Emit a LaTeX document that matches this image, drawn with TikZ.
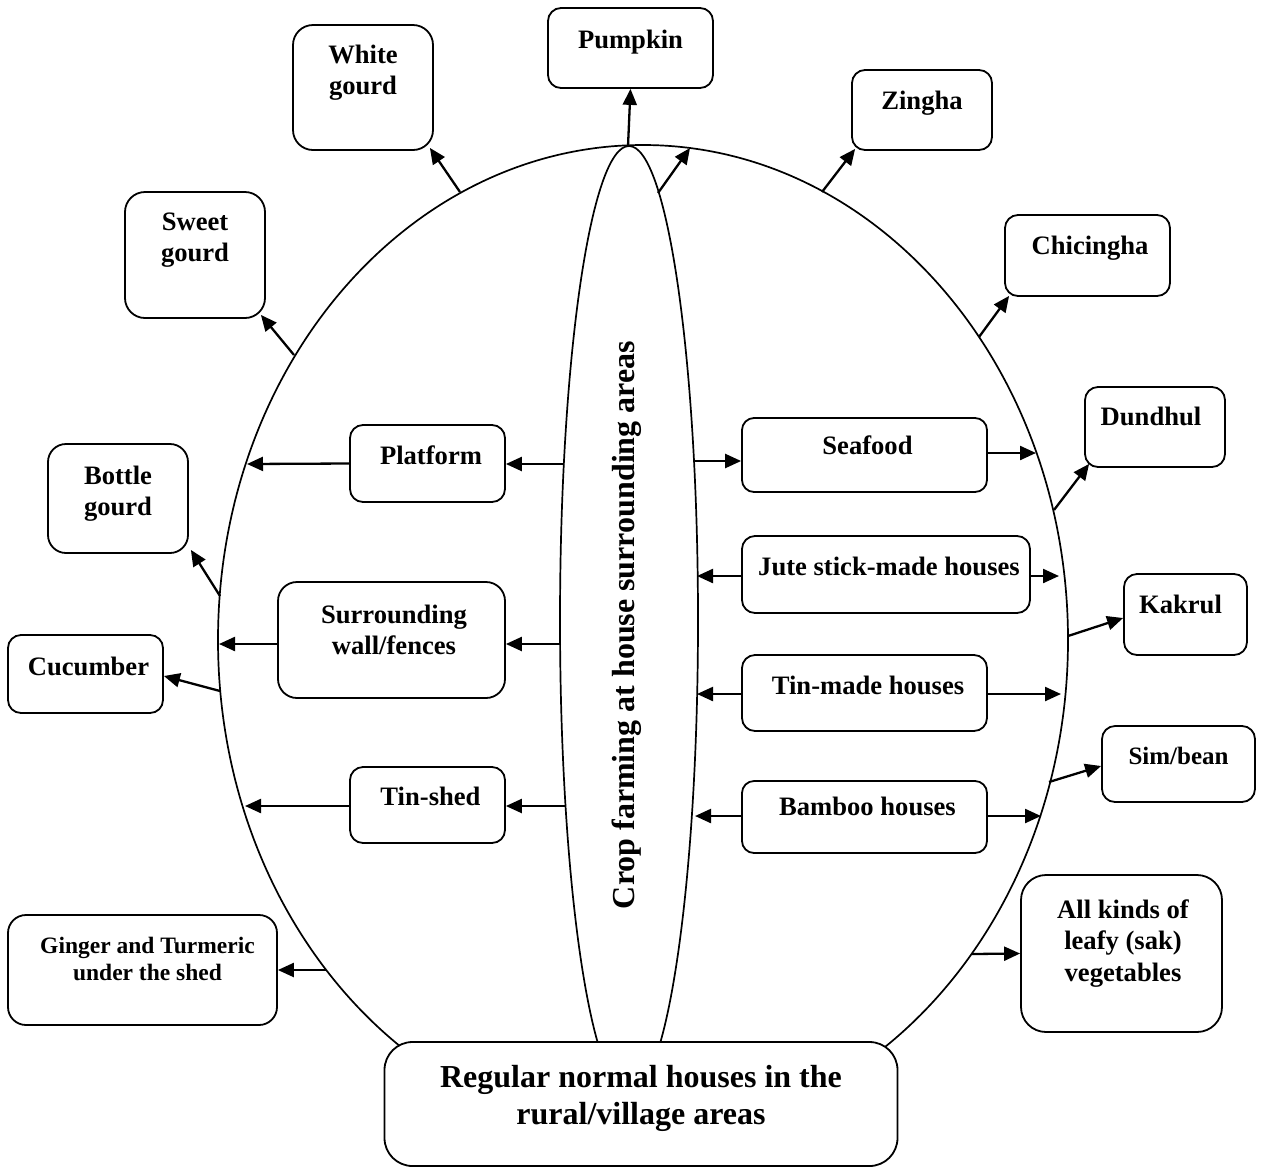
\documentclass[tikz,border=0pt]{standalone}
\usepackage{fontspec}
\setmainfont{Liberation Serif}
\usetikzlibrary{arrows.meta,shapes.geometric,calc}

% font sizes: regular labels, large labels, small labels
\newcommand\fsA{\fontsize{26.6}{31.5}\selectfont\bfseries}
\newcommand\fsB{\fontsize{32}{37}\selectfont\bfseries}
\newcommand\fsC{\fontsize{23.5}{27}\selectfont\bfseries}

\tikzset{
  box/.style={draw, line width=1.8pt, rounded corners=#1, inner sep=0pt, fill=white},
  lbl/.style={anchor=north, align=center, inner sep=0pt, font=\fsA},
  arr/.style={line width=2.3pt, -{Triangle[length=16pt,width=14pt]}},
  ring/.style={draw, ellipse, line width=1.7pt, inner sep=0pt},
}

\begin{document}
\begin{tikzpicture}[x=1pt, y=-1pt]
\useasboundingbox (0,0) rectangle (1263,1168);

% the two ellipses
\node[ring, minimum width=850pt, minimum height=990pt] (outer) at (643,640) {};
\node[ring, minimum width=138pt, minimum height=948pt] (inner) at (629,620) {};

% vertical title inside the inner ellipse
\node[rotate=90, font=\fsB, inner sep=0pt] (crop) at (627,625) {Crop farming at house surrounding areas};

% outer boxes
\node[box=13, minimum width=165pt, minimum height=80pt]  (pumpkin)  at (630.5,48) {};
\node[box=20, minimum width=140pt, minimum height=125pt] (white)    at (363,87.5) {};
\node[box=13, minimum width=140pt, minimum height=80pt]  (zingha)   at (922,110) {};
\node[box=20, minimum width=140pt, minimum height=126pt] (sweet)    at (195,255) {};
\node[box=13, minimum width=165pt, minimum height=81pt]  (chic)     at (1087.5,255.5) {};
\node[box=13, minimum width=140pt, minimum height=80pt]  (dundhul)  at (1155,427) {};
\node[box=18, minimum width=140pt, minimum height=109pt] (bottle)   at (118,498.5) {};
\node[box=13, minimum width=123pt, minimum height=81pt]  (kakrul)   at (1185.5,614.5) {};
\node[box=13, minimum width=155pt, minimum height=78pt]  (cucumber) at (85.5,674) {};
\node[box=13, minimum width=153pt, minimum height=76pt]  (sim)      at (1178.5,764) {};
\node[box=18, minimum width=269pt, minimum height=110pt] (ginger)   at (142.5,970) {};
\node[box=25, minimum width=201pt, minimum height=157pt] (leafy)    at (1121.5,953.5) {};

% inner boxes
\node[box=13, minimum width=155pt, minimum height=77pt]  (platform) at (427.5,463.5) {};
\node[box=19, minimum width=227pt, minimum height=116pt] (wall)     at (391.5,640) {};
\node[box=13, minimum width=155pt, minimum height=76pt]  (tinshed)  at (427.5,805) {};
\node[box=12, minimum width=245pt, minimum height=74pt]  (seafood)  at (864.5,455) {};
\node[box=13, minimum width=288pt, minimum height=77pt]  (jute)     at (886,574.5) {};
\node[box=13, minimum width=245pt, minimum height=76pt]  (tinmade)  at (864.5,693) {};
\node[box=12, minimum width=245pt, minimum height=72pt]  (bamboo)   at (864.5,817) {};

% base box
\node[box=28, minimum width=513pt, minimum height=124pt] (houses) at (641,1104) {};

% labels
\node[lbl] (pumpkinT)  at ([yshift=-18.8pt]pumpkin.north) {\strut Pumpkin};
\node[lbl] (whiteT)    at ([yshift=-16.8pt]white.north) {\strut White\\gourd};
\node[lbl] (zinghaT)   at ([yshift=-17.8pt]zingha.north) {\strut Zingha};
\node[lbl] (sweetT)    at ([yshift=-16.8pt]sweet.north) {\strut Sweet\\gourd};
\node[lbl] (chicT)     at ([shift={(2.5pt,-17.8pt)}]chic.north) {\strut Chicingha};
\node[lbl] (dundhulT)  at ([shift={(-4pt,-16.8pt)}]dundhul.north) {\strut Dundhul};
\node[lbl] (bottleT)   at ([yshift=-18.8pt]bottle.north) {\strut Bottle\\gourd};
\node[lbl] (kakrulT)   at ([shift={(-5pt,-17.8pt)}]kakrul.north) {\strut Kakrul};
\node[lbl] (cucumberT) at ([shift={(3pt,-18.8pt)}]cucumber.north) {\strut Cucumber};
\node[lbl, font=\fontsize{25}{30}\selectfont\bfseries] (simT) at ([yshift=-17.8pt]sim.north) {\strut Sim/bean};
\node[lbl, font=\fsC] (gingerT) at ([shift={(5pt,-20pt)}]ginger.north) {\strut Ginger and Turmeric\\under the shed};
\node[lbl] (leafyT)    at ([shift={(1.5pt,-21.8pt)}]leafy.north) {\strut All kinds of\\leafy (sak)\\vegetables};
\node[lbl] (platformT) at ([shift={(3.5pt,-17.8pt)}]platform.north) {\strut Platform};
\node[lbl] (wallT)     at ([shift={(2.5pt,-19.8pt)}]wall.north) {\strut Surrounding\\wall/fences};
\node[lbl] (tinshedT)  at ([shift={(3pt,-16.8pt)}]tinshed.north) {\strut Tin-shed};
\node[lbl] (seafoodT)  at ([shift={(3pt,-14.8pt)}]seafood.north) {\strut Seafood};
\node[lbl] (juteT)     at ([shift={(3pt,-17.8pt)}]jute.north) {\strut Jute stick-made houses};
\node[lbl] (tinmadeT)  at ([shift={(3.5pt,-17.8pt)}]tinmade.north) {\strut Tin-made houses};
\node[lbl] (bambooT)   at ([shift={(3pt,-12.8pt)}]bamboo.north) {\strut Bamboo houses};
\node[lbl, font=\fsB] (housesT) at ([yshift=-20pt]houses.north) {\strut Regular normal houses in the\\rural/village areas};

% points on the ellipses where connectors start or end
\coordinate (pTop)  at (628,146);
\coordinate (iTopR) at (658,193);
\coordinate (oTopR) at (690,148);
\coordinate (oWhite) at (460,192);
\coordinate (oZing) at (822,192);
\coordinate (oSweet) at (294,355);
\coordinate (oChic) at (979,337);
\coordinate (oDund) at (1054,510);
\coordinate (oBott) at (220,596);
\coordinate (oCuc)  at (220,691);
\coordinate (oKak)  at (1068,636);
\coordinate (oSim)  at (1049,782);
\coordinate (oGing) at (326,970);
\coordinate (oLeaf) at (972,954);
\coordinate (iPlat) at (564,464);
\coordinate (iWall) at (561,644);
\coordinate (iTin)  at (565,806);
\coordinate (iSea)  at (693,461);
\coordinate (iJute) at (697,576);
\coordinate (iTinM) at (697,694);
\coordinate (iBam)  at (695,816);
\coordinate (oPlat) at (247,464);
\coordinate (oWall) at (219,644);
\coordinate (oTin)  at (245,806);
\coordinate (oSea)  at (1036,453);
\coordinate (oJute) at (1059,576);
\coordinate (oTinM) at (1061,694);
\coordinate (oBam)  at (1041,816);

% connectors on the rim
\draw[arr] (pTop) -- (pumpkin.south);
\draw[arr] (iTopR) -- (oTopR);
\draw[arr] (oWhite) -- ([shift={(-4pt,3pt)}]white.south east);
\draw[arr] (oZing) -- ([shift={(4pt,2pt)}]zingha.south west);
\draw[arr] (oSweet) -- ([shift={(-5pt,4pt)}]sweet.south east);
\draw[arr] (oChic) -- ([shift={(5pt,1pt)}]chic.south west);
\draw[arr] (oDund) -- ([shift={(5pt,4pt)}]dundhul.south west);
\draw[arr] (oBott) -- ([shift={(2pt,4pt)}]bottle.south east);
\draw[arr] (oCuc) -- ([yshift=-2pt]cucumber.east);
\draw[arr] (oKak) -- ([yshift=-3.5pt]kakrul.west);
\draw[arr] (oSim) -- ([yshift=-2pt]sim.west);
\draw[arr] (oGing) -- (ginger.east);
\draw[arr] (oLeaf) -- (leafy.west);

% connectors through the left-hand boxes
\draw[arr] (iPlat) -- (iPlat -| platform.east);
\draw[arr] (platform.west) -- (oPlat);
\draw[arr] (iWall) -- (iWall -| wall.east);
\draw[arr] (wall.west |- iWall) -- (oWall);
\draw[arr] (iTin) -- (iTin -| tinshed.east);
\draw[arr] (tinshed.west |- iTin) -- (oTin);

% connectors through the right-hand boxes
\draw[arr] (iSea) -- (iSea -| seafood.west);
\draw[arr] (seafood.east |- oSea) -- (oSea);
\draw[arr] (jute.west |- iJute) -- (iJute);
\draw[arr] (jute.east |- oJute) -- (oJute);
\draw[arr] (tinmade.west |- iTinM) -- (iTinM);
\draw[arr] (tinmade.east |- oTinM) -- (oTinM);
\draw[arr] (bamboo.west |- iBam) -- (iBam);
\draw[arr] (bamboo.east |- oBam) -- (oBam);
\end{tikzpicture}
\end{document}
